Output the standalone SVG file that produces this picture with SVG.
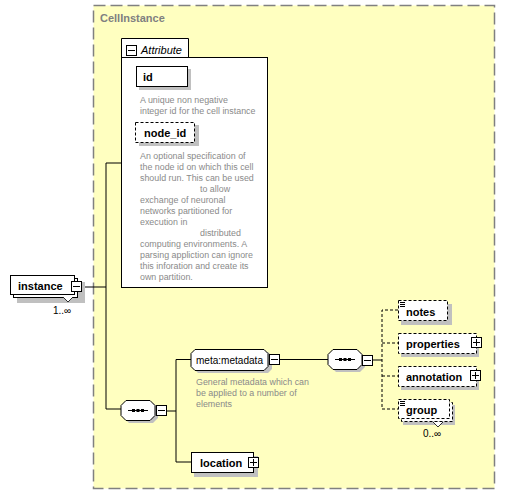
<svg xmlns="http://www.w3.org/2000/svg" width="505" height="494" viewBox="0 0 505 494">
<defs>
<style>
.bx{fill:#fff;stroke:#000;stroke-width:1}
.dbx{fill:#fff;stroke:#000;stroke-width:1;stroke-dasharray:3,2}
.sh{fill:#c0c0c0}
.nm{font-family:"Liberation Sans",Arial,sans-serif;font-size:11px;font-weight:bold;fill:#000}
.ds{font-family:"Liberation Sans",Arial,sans-serif;font-size:8.9px;fill:#8a8a8a}
.ln{stroke:#000;stroke-width:1;fill:none}
.dln{stroke:#000;stroke-width:1;fill:none;stroke-dasharray:3,2}
.btn{fill:#fff;stroke:#000;stroke-width:1}
</style>
</defs>
<rect width="505" height="494" fill="#fff"/>
<g id="cellinstance">
<rect x="93.5" y="5.5" width="401" height="483" fill="#ffffc0" stroke="#808080" stroke-width="1.5" stroke-dasharray="12,5"/>
<text x="100" y="22" style="font-family:'Liberation Sans',Arial,sans-serif;font-size:11px;font-weight:bold;fill:#808080">CellInstance</text>
</g>
<g id="connectors">
<polyline class="ln" points="82,287 106,287"/>
<polyline class="ln" points="122,163 106,163 106,409 121,409"/>
<polyline class="ln" points="167,411 176,411"/>
<polyline class="ln" points="191,359.5 176,359.5 176,462 191,462"/>
<polyline class="ln" points="280,359.5 328,359.5"/>
<polyline class="ln" points="373,360 382,360"/>
<polyline class="dln" points="398,310 382,310 382,409 398,409"/>
<polyline class="dln" points="382,343 398,343"/>
<polyline class="dln" points="382,376 398,376"/>
</g>
<g id="attribute">
<path class="bx" d="M121.5,57.5 V38.5 H188.5 V57.5"/>
<rect class="bx" x="121.5" y="57.5" width="146" height="230"/>
<rect class="btn" x="126.5" y="45.5" width="10" height="10"/>
<line class="ln" x1="128" y1="50.5" x2="135" y2="50.5"/>
<text x="141" y="54" style="font-family:'Liberation Sans',Arial,sans-serif;font-size:11px;font-style:italic;fill:#000">Attribute</text>
</g>
<g id="id">
<rect class="sh" x="139" y="69" width="52" height="21"/>
<rect class="bx" x="136.5" y="66.5" width="51" height="20"/>
<text class="nm" x="143" y="81">id</text>
<text class="ds" x="140" y="103">A unique non negative</text>
<text class="ds" x="140" y="114">integer id for the cell instance</text>
</g>
<g id="node_id">
<rect class="sh" x="139" y="125" width="60" height="21"/>
<rect class="dbx" x="135.5" y="122.5" width="59" height="20"/>
<text class="nm" x="144" y="137">node_id</text>
<text class="ds" x="140" y="159">An optional specification of</text>
<text class="ds" x="140" y="170">the node id on which this cell</text>
<text class="ds" x="140" y="181">should run. This can be used</text>
<text class="ds" x="200" y="192">to allow</text>
<text class="ds" x="140" y="203">exchange of neuronal</text>
<text class="ds" x="140" y="214">networks partitioned for</text>
<text class="ds" x="140" y="225">execution in</text>
<text class="ds" x="200" y="236">distributed</text>
<text class="ds" x="140" y="247">computing environments. A</text>
<text class="ds" x="140" y="258">parsing appliction can ignore</text>
<text class="ds" x="140" y="269">this inforation and create its</text>
<text class="ds" x="140" y="280">own partition.</text>
</g>
<g id="instance">
<rect class="sh" x="17" y="282" width="68" height="21"/>
<rect class="bx" x="13.5" y="278.5" width="64" height="19"/>
<rect class="bx" x="10.5" y="275.5" width="64" height="19"/>
<path d="M63,297 L68,302 L73,297" fill="#fff" stroke="#000" stroke-width="0.8"/>
<text class="nm" x="18" y="290">instance</text>
<rect class="btn" x="71.5" y="281.5" width="10" height="10"/>
<line class="ln" x1="73" y1="286.5" x2="80" y2="286.5"/>
<text x="53" y="314" style="font-family:'Liberation Sans',Arial,sans-serif;font-size:10px;fill:#000">1..∞</text>
</g>
<g id="sequence1">
<polygon class="sh" points="129,403 153,403 158,408 158,418 153,423 129,423 124,418 124,408"/>
<polygon class="bx" points="126,400.5 150,400.5 155,405.5 155,415.5 150,420.5 126,420.5 121,415.5 121,405.5"/>
<line class="ln" x1="128" y1="410.5" x2="148" y2="410.5"/>
<rect x="132" y="409" width="3" height="3" fill="#000"/>
<rect x="136.5" y="409" width="3" height="3" fill="#000"/>
<rect x="141" y="409" width="3" height="3" fill="#000"/>
<rect class="btn" x="156.5" y="405.5" width="10" height="10"/>
<line class="ln" x1="158" y1="410.5" x2="165" y2="410.5"/>
</g>
<g id="metadata">
<polygon class="sh" points="198,352 268,352 272,356 272,369 268,373 198,373 194,369 194,356"/>
<polygon class="bx" points="195,349.5 264,349.5 268,353.5 268,366.5 264,370.5 195,370.5 191,366.5 191,353.5"/>
<text class="nm" x="196" y="364" style="font-weight:normal" textLength="67" lengthAdjust="spacingAndGlyphs">meta:metadata</text>
<rect class="btn" x="269.5" y="354.5" width="10" height="10"/>
<line class="ln" x1="271" y1="359.5" x2="278" y2="359.5"/>
<text class="ds" x="196" y="385">General metadata which can</text>
<text class="ds" x="196" y="396">be applied to a number of</text>
<text class="ds" x="196" y="407">elements</text>
</g>
<g id="location">
<rect class="sh" x="194" y="456" width="64" height="21"/>
<rect class="bx" x="191.5" y="452.5" width="62" height="20"/>
<text class="nm" x="200" y="467">location</text>
<rect class="btn" x="248.5" y="457.5" width="10" height="10"/>
<line class="ln" x1="250" y1="462.5" x2="257" y2="462.5"/>
<line class="ln" x1="253.5" y1="459" x2="253.5" y2="466"/>
</g>
<g id="sequence2">
<polygon class="sh" points="336,352 360,352 365,357 365,367 360,372 336,372 331,367 331,357"/>
<polygon class="bx" points="333,349.5 357,349.5 362,354.5 362,364.5 357,369.5 333,369.5 328,364.5 328,354.5"/>
<line class="ln" x1="335" y1="359.5" x2="355" y2="359.5"/>
<rect x="339" y="358" width="3" height="3" fill="#000"/>
<rect x="343.5" y="358" width="3" height="3" fill="#000"/>
<rect x="348" y="358" width="3" height="3" fill="#000"/>
<rect class="btn" x="362.5" y="355.5" width="10" height="10"/>
<line class="ln" x1="364" y1="360.5" x2="371" y2="360.5"/>
</g>
<g id="notes">
<rect class="sh" x="401" y="304" width="51" height="21"/>
<rect class="dbx" x="398.5" y="300.5" width="49" height="20"/>
<path d="M400,302.5 H405 M400,304.5 H405 M400,306.5 H405" stroke="#000" stroke-width="1"/>
<text class="nm" x="406" y="316">notes</text>
</g>
<g id="properties">
<rect class="sh" x="401" y="337" width="78" height="20"/>
<rect class="dbx" x="398.5" y="333.5" width="78" height="20"/>
<text class="nm" x="406" y="348">properties</text>
<rect class="btn" x="471.5" y="337.5" width="10" height="10"/>
<line class="ln" x1="473" y1="342.5" x2="480" y2="342.5"/>
<line class="ln" x1="476.5" y1="339" x2="476.5" y2="346"/>
</g>
<g id="annotation">
<rect class="sh" x="401" y="370" width="78" height="20"/>
<rect class="dbx" x="398.5" y="366.5" width="78" height="20"/>
<text class="nm" x="406" y="381">annotation</text>
<rect class="btn" x="470.5" y="370.5" width="10" height="10"/>
<line class="ln" x1="472" y1="375.5" x2="479" y2="375.5"/>
<line class="ln" x1="475.5" y1="372" x2="475.5" y2="379"/>
</g>
<g id="group">
<rect class="sh" x="403" y="405" width="52" height="20"/>
<rect class="dbx" x="401.5" y="402.5" width="51" height="19"/>
<rect class="dbx" x="398.5" y="399.5" width="51" height="19"/>
<path d="M433,422 L438,427 L443,422" fill="#fff" stroke="#000" stroke-width="0.8"/>
<path d="M400,401.5 H405 M400,403.5 H405 M400,405.5 H405" stroke="#000" stroke-width="1"/>
<text class="nm" x="406" y="414">group</text>
<text x="423" y="437" style="font-family:'Liberation Sans',Arial,sans-serif;font-size:10px;fill:#000">0..∞</text>
</g>
</svg>
